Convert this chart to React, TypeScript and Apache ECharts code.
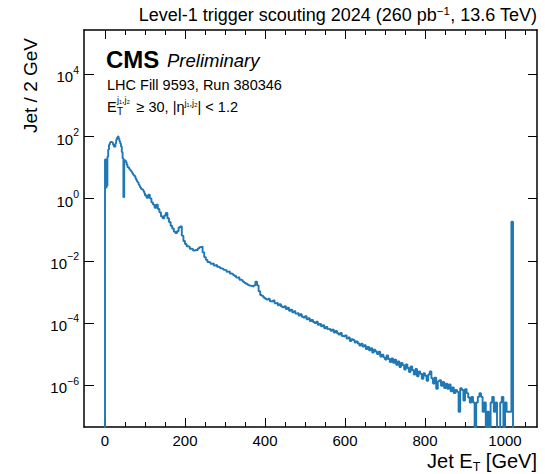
import React, { useEffect, useRef } from "react";
import * as echarts from "echarts";

const FONT = "'Liberation Sans', Arial, Helvetica, 'DejaVu Sans', sans-serif";

// Jet E_T histogram, values as log10(jets per bin); null = empty bin
const PEAK_START = 0;
const PEAK_WIDTH = 2;
const peakLog10 = [
  1.26, 0.36, 0.42, 1.35, 1.58, 1.74, 1.8, 1.83, 1.82, 1.8,
  1.74, 1.68, 1.66, 1.78, 1.9, 1.96, 2.0, 1.93, 1.85, 1.78,
  1.68, 1.5, 1.3, 0.05, 1.24, 1.22, 1.18, 1.1, 1.02, 1.0,
  0.96, 0.93, 0.9, 0.87, 0.82, 0.78, 0.74, 0.72, 0.66, 0.6,
  0.55, 0.52, 0.46, 0.41, 0.36, 0.31, 0.3, 0.28, 0.24, 0.18,
];

const BULK_START = 100;
const BULK_WIDTH = 4;
const bulkLog10 = [
  0.1, 0.03, 0.13, 0.01, -0.12, -0.19, -0.29, -0.19, -0.33, -0.44,
  -0.57, -0.63, -0.54, -0.46, -0.63, -0.75, -0.87, -0.96, -1.06, -1.11,
  -1.05, -0.93, -0.89, -1.19, -1.36, -1.46, -1.53, -1.55, -1.61, -1.62,
  -1.67, -1.65, -1.65, -1.6, -1.56, -1.54, -1.73, -1.88, -1.97, -2.04,
  -2.05, -2.1, -2.08, -2.15, -2.13, -2.19, -2.21, -2.24, -2.26, -2.29,
  -2.3, -2.35, -2.34, -2.41, -2.42, -2.46, -2.49, -2.54, -2.53, -2.61,
  -2.62, -2.67, -2.71, -2.74, -2.77, -2.8, -2.81, -2.83, -2.79, -2.67,
  -2.79, -2.98, -3.1, -3.13, -3.18,
];

const TAIL_START = 400;
const TAIL_WIDTH = 4;
const tailLog10: (number | null)[] = [
  -3.22, -3.25, -3.22, -3.3, -3.31, -3.28, -3.37, -3.35, -3.43, -3.4,
  -3.47, -3.5, -3.46, -3.55, -3.51, -3.61, -3.57, -3.66, -3.62, -3.7,
  -3.68, -3.76, -3.72, -3.8, -3.83, -3.78, -3.88, -3.85, -3.94, -3.9,
  -3.97, -4.0, -3.96, -4.06, -4.03, -4.11, -4.07, -4.17, -4.13, -4.2,
  -4.19, -4.25, -4.22, -4.31, -4.26, -4.33, -4.37, -4.32, -4.42, -4.44,
  -4.4, -4.5, -4.47, -4.58, -4.52, -4.55, -4.63, -4.6, -4.66, -4.73,
  -4.67, -4.76, -4.72, -4.84, -4.77, -4.88, -4.81, -4.95, -4.86, -4.92,
  -5.0, -4.93, -5.08, -5.02, -5.11, -5.18, -5.05, -5.16, -5.26, -5.14,
  -5.28, -5.18, -5.35, -5.24, -5.42, -5.29, -5.36, -5.5, -5.34, -5.45,
  -5.58, -5.4, -5.52, -5.66, -5.48, -5.72, -5.56, -5.64, -5.8, -5.62,
  -5.7, -5.86, -5.66, -5.56, -5.78, -5.95, -5.76, -6.12, -5.88, -5.84,
  -6.02, -5.9, -6.1, -5.96, -6.12, -5.98, -6.2, -6.08, -6.26, -6.16,
  -6.22, -6.86, -6.1, -6.16, -6.5, -6.13, -6.26, -6.4, -6.56, -6.38,
  -6.56, null, -6.56, -6.38, -6.26, -6.38, -6.86, -6.56, null, -6.86,
  null, -6.56, -6.38, -6.86, -6.56, null, null, -6.56, -6.38, null,
  -6.56, -6.86, -6.86, -6.86,
];

const OVERFLOW_START = 1016;
const OVERFLOW_WIDTH = 4;
const overflowLog10 = [-0.74];

const xMajorTicks = [0, 200, 400, 600, 800, 1000];
const xMinorTicks = [50, 100, 150, 250, 300, 350, 450, 500, 550, 650, 700, 750, 850, 900, 950, 1050];
const yMajorTicks = [1e-6, 1e-4, 1e-2, 1, 1e2, 1e4];

const X_MIN = -52.5;
const X_MAX = 1080;
const Y_MIN = Math.pow(10, -7.35);
const Y_MAX = Math.pow(10, 5.43);
const EMPTY = 1e-12;

const LINE_COLOR = "#1f77b4";

function buildSteps(): [number, number][] {
  const segs = [
    { start: PEAK_START, width: PEAK_WIDTH, vals: peakLog10 as (number | null)[] },
    { start: BULK_START, width: BULK_WIDTH, vals: bulkLog10 as (number | null)[] },
    { start: TAIL_START, width: TAIL_WIDTH, vals: tailLog10 },
    { start: OVERFLOW_START, width: OVERFLOW_WIDTH, vals: overflowLog10 as (number | null)[] },
  ];
  const pts: [number, number][] = [[PEAK_START - PEAK_WIDTH, EMPTY]];
  for (const s of segs) {
    s.vals.forEach((v, i) => {
      pts.push([s.start + i * s.width, v === null ? EMPTY : Math.pow(10, v)]);
    });
  }
  const last = segs[segs.length - 1];
  pts.push([last.start + last.vals.length * last.width, EMPTY]);
  pts.push([X_MAX, EMPTY]);
  return pts;
}

export default function App() {
  const ref = useRef<HTMLDivElement>(null);

  useEffect(() => {
    if (!ref.current) return;
    const chart = echarts.init(ref.current, undefined, { renderer: "svg" });

    const frameLine = { show: true, onZero: false, lineStyle: { color: "#000", width: 1.5 } };
    const tickStyle = { color: "#000", width: 1 };

    const xBase = {
      type: "value",
      min: X_MIN,
      max: X_MAX,
      splitLine: { show: false },
      minorTick: { show: false },
    };
    const yBase = {
      type: "log",
      logBase: 10,
      min: Y_MIN,
      max: Y_MAX,
      splitLine: { show: false },
      minorTick: { show: false },
    };

    const option: any = {
      animation: false,
      backgroundColor: "#fff",
      grid: { left: 84, top: 30, right: 8, bottom: 47, containLabel: false, outerBoundsMode: "none" },
      xAxis: [
        {
          ...xBase,
          position: "bottom",
          axisLine: frameLine,
          axisTick: { show: true, inside: true, length: 9, customValues: xMajorTicks, lineStyle: tickStyle },
          axisLabel: {
            show: true,
            customValues: xMajorTicks,
            color: "#000",
            fontSize: 15,
            fontFamily: FONT,
            margin: 6,
            formatter: (v: number) => String(v),
          },
        },
        {
          ...xBase,
          position: "bottom",
          axisLine: { show: false, onZero: false },
          axisTick: { show: true, inside: true, length: 5, customValues: xMinorTicks, lineStyle: tickStyle },
          axisLabel: { show: false },
        },
        {
          ...xBase,
          position: "top",
          axisLine: frameLine,
          axisTick: { show: true, inside: true, length: 9, customValues: xMajorTicks, lineStyle: tickStyle },
          axisLabel: { show: false },
        },
        {
          ...xBase,
          position: "top",
          axisLine: { show: false, onZero: false },
          axisTick: { show: true, inside: true, length: 5, customValues: xMinorTicks, lineStyle: tickStyle },
          axisLabel: { show: false },
        },
      ],
      yAxis: [
        {
          ...yBase,
          position: "left",
          axisLine: frameLine,
          axisTick: { show: true, inside: true, length: 10, customValues: yMajorTicks, lineStyle: tickStyle },
          axisLabel: {
            show: true,
            customValues: yMajorTicks,
            margin: 5,
            formatter: (v: number) => {
              const e = Math.round(Math.log10(v));
              const s = e < 0 ? "\u2212" + Math.abs(e) : String(e);
              return `{b|10}{s|${s}}`;
            },
            rich: {
              b: { fontSize: 15, fontFamily: FONT, color: "#000", lineHeight: 18, padding: [5, 0, 0, 0] },
              s: { fontSize: 10.5, fontFamily: FONT, color: "#000", lineHeight: 20, verticalAlign: "top" },
            },
          },
        },
        {
          ...yBase,
          position: "right",
          axisLine: frameLine,
          axisTick: { show: true, inside: true, length: 9, customValues: yMajorTicks, lineStyle: tickStyle },
          axisLabel: { show: false },
        },
      ],
      series: [
        {
          type: "line",
          xAxisIndex: 0,
          yAxisIndex: 0,
          data: buildSteps(),
          step: "end",
          symbol: "none",
          showSymbol: false,
          clip: true,
          silent: true,
          lineStyle: { color: LINE_COLOR, width: 1.9 },
          z: 3,
        },
      ],
      graphic: [
        {
          type: "text",
          x: 537,
          y: 15,
          z: 10,
          style: {
            text: "Level-1 trigger scouting 2024 (260 pb{s|\u22121}, 13.6 TeV)",
            fontSize: 18,
            fontFamily: FONT,
            fill: "#000",
            align: "right",
            verticalAlign: "middle",
            lineHeight: 20,
            rich: {
              s: { fontSize: 11.5, fontFamily: FONT, fill: "#000", lineHeight: 13, verticalAlign: "top" },
            },
          },
        },
        {
          type: "text",
          x: 106,
          y: 59.5,
          z: 10,
          style: { text: "CMS", fontSize: 24, fontWeight: "bold", fontFamily: FONT, fill: "#000", verticalAlign: "middle" },
        },
        {
          type: "text",
          x: 167,
          y: 60.5,
          z: 10,
          style: { text: "Preliminary", fontSize: 18.5, fontStyle: "italic", fontFamily: FONT, fill: "#000", verticalAlign: "middle" },
        },
        {
          type: "text",
          x: 107,
          y: 85,
          z: 10,
          style: { text: "LHC Fill 9593, Run 380346", fontSize: 14.5, fontFamily: FONT, fill: "#000", verticalAlign: "middle" },
        },
        {
          type: "text",
          x: 107,
          y: 107,
          z: 10,
          style: { text: "E", fontSize: 14.5, fontFamily: FONT, fill: "#000", verticalAlign: "middle" },
        },
        {
          type: "text",
          x: 117,
          y: 100,
          z: 10,
          style: { text: "j\u2081,j\u2082", fontSize: 9, fontFamily: FONT, fill: "#000", verticalAlign: "middle" },
        },
        {
          type: "text",
          x: 117,
          y: 111.5,
          z: 10,
          style: { text: "T", fontSize: 10, fontFamily: FONT, fill: "#000", verticalAlign: "middle" },
        },
        {
          type: "text",
          x: 136.5,
          y: 107,
          z: 10,
          style: {
            text: "\u2265 30, |\u03b7{s|j\u2081,j\u2082}| < 1.2",
            fontSize: 14.5,
            fontFamily: FONT,
            fill: "#000",
            verticalAlign: "middle",
            lineHeight: 18,
            rich: {
              s: { fontSize: 9, fontFamily: FONT, fill: "#000", lineHeight: 11, verticalAlign: "top" },
            },
          },
        },
        {
          type: "text",
          x: 30,
          y: 38,
          rotation: Math.PI / 2,
          z: 10,
          style: { text: "Jet / 2 GeV", fontSize: 19, fontFamily: FONT, fill: "#000", align: "right", verticalAlign: "middle" },
        },
        {
          type: "text",
          x: 537,
          y: 461,
          z: 10,
          style: {
            text: "Jet E{t|T} [GeV]",
            fontSize: 20,
            fontFamily: FONT,
            fill: "#000",
            align: "right",
            verticalAlign: "middle",
            lineHeight: 24,
            rich: {
              t: { fontSize: 12.5, fontFamily: FONT, fill: "#000", lineHeight: 14, verticalAlign: "bottom" },
            },
          },
        },
      ],
    };

    chart.setOption(option);
    return () => {
      chart.dispose();
    };
  }, []);

  return (
    <div
      ref={ref}
      style={{ position: "fixed", left: 0, top: 0, width: 545, height: 474, background: "#fff" }}
    />
  );
}
